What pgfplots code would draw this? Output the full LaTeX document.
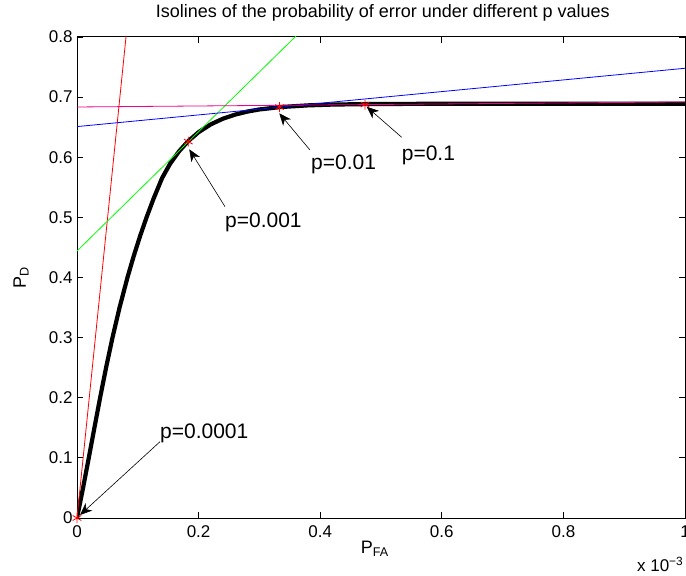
\documentclass[border=0pt]{standalone}
\usepackage{fontspec}
\setmainfont{Liberation Sans}
\usepackage{pgfplots}
\pgfplotsset{compat=1.18}
\usetikzlibrary{arrows.meta}
\begin{document}
\begin{tikzpicture}
\useasboundingbox (0,0) rectangle (686bp,576bp);
\begin{axis}[
  name=ax,
  at={(77bp,58bp)}, anchor=south west,
  scale only axis, width=608bp, height=481bp,
  xmin=0, xmax=1, ymin=0, ymax=0.8,
  xtick={0,0.2,0.4,0.6,0.8,1},
  ytick={0,0.1,0.2,0.3,0.4,0.5,0.6,0.7,0.8},
  tick align=inside,
  major tick length=6bp,
  axis line style={line width=1bp},
  every tick/.style={black, line width=0.8bp},
  /pgf/number format/assume math mode=true,
  ticklabel style={font=\fontsize{17bp}{19bp}\selectfont},
  yticklabel style={xshift=-1bp},
  xticklabel style={yshift=-4bp},
  title={Isolines of the probability of error under different p values},
  title style={at={(rel axis cs:0.503,1.038)}, anchor=center, font=\fontsize{18bp}{20bp}\selectfont, inner sep=0pt},
  xlabel={P\textsubscript{FA}},
  xlabel style={at={(rel axis cs:0.49,-0.0645)}, anchor=center, font=\fontsize{18bp}{20bp}\selectfont, inner sep=0pt},
  ylabel={P\textsubscript{D}},
  ylabel style={at={(rel axis cs:-0.092,0.5)}, anchor=center, font=\fontsize{18bp}{20bp}\selectfont, inner sep=0pt},
]
% ROC curve
\addplot[black, line width=4.2bp, line join=round] coordinates {
(0,0) (0.00994,0.05) (0.01938,0.1) (0.02863,0.15) (0.0380,0.2) (0.04781,0.25)
(0.05837,0.3) (0.0700,0.35) (0.0830,0.4) (0.09309,0.435) (0.10411,0.47)
(0.11439,0.50) (0.12588,0.531) (0.1400,0.5655) (0.1530,0.589) (0.1680,0.6101)
(0.1830,0.6269) (0.2000,0.6417) (0.2200,0.6547) (0.2400,0.6641) (0.2600,0.6709)
(0.2800,0.6759) (0.3000,0.6795) (0.3350,0.6835) (0.3800,0.6863) (0.4200,0.6876)
(0.4740,0.6884) (0.5500,0.6888) (0.7000,0.6890) (1.0000,0.6890)
};
% isolines
\addplot[red, line width=0.8bp] coordinates {(0,0) (0.1,0.9926)};
\addplot[green, line width=0.8bp] coordinates {(0,0.444) (1,1.437)};
\addplot[blue, line width=0.8bp] coordinates {(0,0.651) (1,0.748)};
\addplot[magenta, line width=0.8bp] coordinates {(0,0.6836) (1,0.692)};
% operating points
\addplot[only marks, red, mark=asterisk, mark size=5bp, line width=0.8bp] coordinates {
(0,0) (0.183,0.626) (0.333,0.6835) (0.4737,0.6877)
};
% annotations
\draw[-{Stealth[length=12bp,width=10bp,inset=3.5bp]}, line width=0.6bp] (axis cs:0.1365,0.1269) -- (axis cs:0.005,0.005);
\draw[-{Stealth[length=12bp,width=10bp,inset=3.5bp]}, line width=0.6bp] (axis cs:0.2434,0.5178) -- (axis cs:0.1847,0.6132);
\draw[-{Stealth[length=12bp,width=10bp,inset=3.5bp]}, line width=0.6bp] (axis cs:0.3832,0.612) -- (axis cs:0.3327,0.6731);
\draw[-{Stealth[length=12bp,width=10bp,inset=3.5bp]}, line width=0.6bp] (axis cs:0.534,0.6332) -- (axis cs:0.4765,0.684);
\node[anchor=west, inner sep=0pt, font=\fontsize{21bp}{23bp}\selectfont] at (axis cs:0.1365,0.1414) {p=0.0001};
\node[anchor=west, inner sep=0pt, font=\fontsize{21bp}{23bp}\selectfont] at (axis cs:0.2434,0.4915) {p=0.001};
\node[anchor=west, inner sep=0pt, font=\fontsize{21bp}{23bp}\selectfont] at (axis cs:0.3849,0.5888) {p=0.01};
\node[anchor=west, inner sep=0pt, font=\fontsize{21bp}{23bp}\selectfont] at (axis cs:0.534,0.6037) {p=0.1};
\end{axis}
\node[anchor=base east, inner sep=0pt, font=\fontsize{17bp}{19bp}\selectfont] at ([xshift=-1.5bp,yshift=-53.7bp]ax.south east) {x 10\textsuperscript{−3}};
\end{tikzpicture}
\end{document}
